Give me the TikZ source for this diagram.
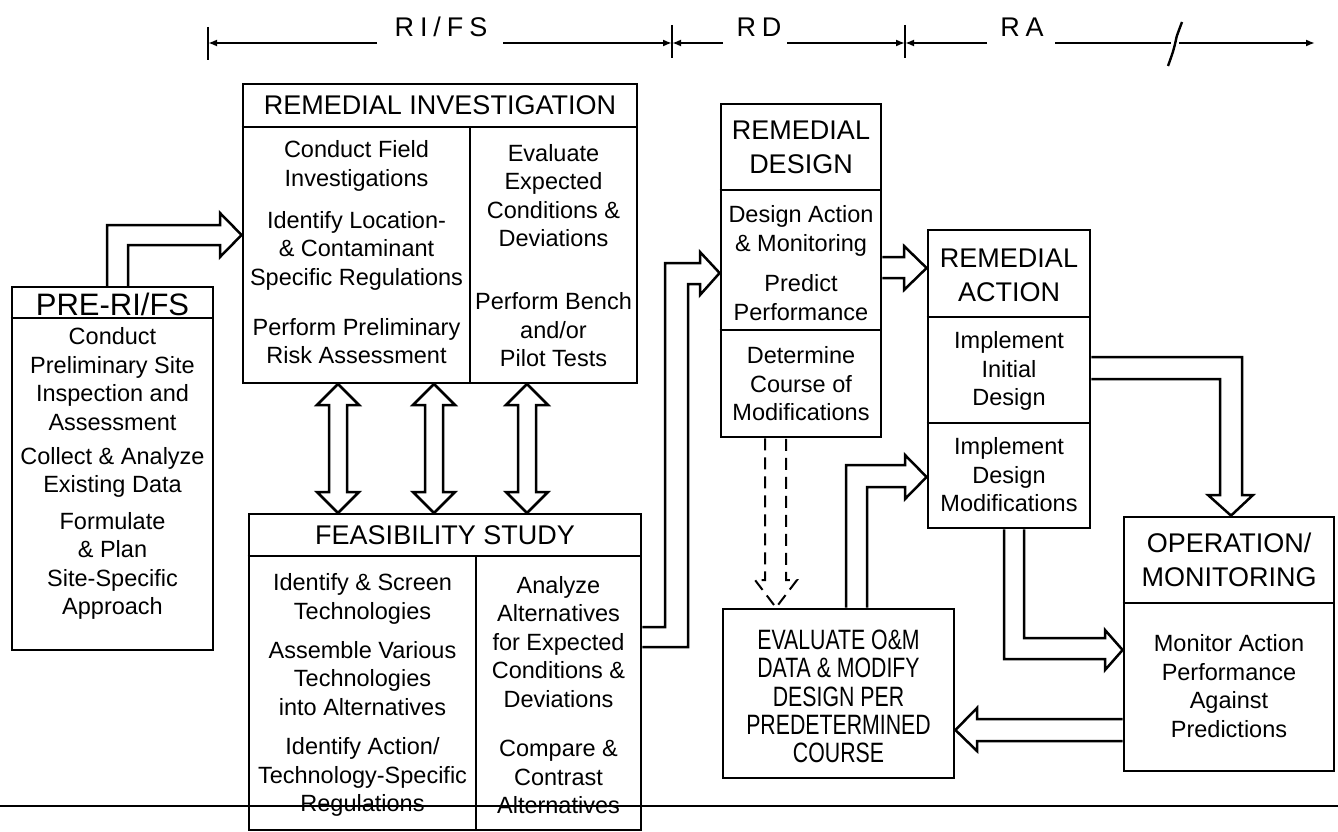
\documentclass[tikz,border=0pt]{standalone}
\usepackage{fontspec}
\setmainfont{Liberation Sans}
\newfontfamily\condsans[FakeStretch=0.76]{Liberation Sans}
\newfontfamily\spacedsans[LetterSpace=22]{Liberation Sans}
\newcommand\mybody{\fontsize{23.5}{28.5}\selectfont}
\newcommand\myhead{\fontsize{27}{34}\selectfont}
\usetikzlibrary{arrows.meta}
\begin{document}
\begin{tikzpicture}[x=1pt,y=-1pt,
  box/.style={draw, line width=2.8pt, inner sep=0pt},
  divline/.style={line width=2.8pt},
  txt/.style={align=center, inner sep=0pt, font=\mybody},
  hd/.style={align=center, inner sep=0pt, font=\myhead},
  evtxt/.style={align=center, inner sep=0pt, font=\condsans\fontsize{28}{28.2}\selectfont},
  phase/.style={inner sep=0pt, anchor=base, font=\spacedsans\fontsize{27}{30}\selectfont},
  harrow/.style={draw, line width=2.5pt, line join=miter},
  tl/.style={line width=2.4pt},
  tltip/.style={-{Latex[length=9pt,width=7pt]}},
  tick/.style={line width=1.6pt}
]
\useasboundingbox (0,0) rectangle (1338,832);

% ---------------- timeline ----------------
\coordinate (t0) at (208,43);
\coordinate (t1) at (672,43);
\coordinate (t2) at (905,43);
\coordinate (tend) at (1315,43);
\draw[tick] (208,27) -- (208,60);
\draw[tick] (672,25) -- (672,58);
\draw[tick] (905,25) -- (905,58);
\node[phase] (lrifs) at (441,37) {RI/FS};
\node[phase] (lrd) at (759,37) {RD};
\node[phase] (lra) at (1022,37) {RA};
\draw[tl,tltip] (377,43) -- (t0);
\draw[tl,tltip] (503,43) -- (t1);
\draw[tl,tltip] (723,43) -- (t1);
\draw[tl,tltip] (787,43) -- (t2);
\draw[tl,tltip] (987,43) -- (t2);
\draw[tl] (1055,43) -- (1171,43);
\draw[tl] (1182,22) .. controls (1176,38) .. (1175,44) .. controls (1173,52) .. (1168,66);
\draw[tl,tltip] (1179,43) -- (tend);

% ---------------- boxes ----------------
\node[box, minimum width=201pt, minimum height=363pt] (pre) at (112.5,468.5) {};
\draw[divline] (pre.west |- 0,318) -- (pre.east |- 0,318);

\node[box, minimum width=394pt, minimum height=299pt] (ri) at (440,233.5) {};
\draw[divline] (ri.west |- 0,127) -- (ri.east |- 0,127);
\draw[divline] (470,127) -- (ri.south -| 470,0);

\node[box, minimum width=392pt, minimum height=316pt] (fs) at (445,672) {};
\draw[divline] (fs.west |- 0,556) -- (fs.east |- 0,556);
\draw[divline] (476,556) -- (fs.south -| 476,0);

\node[box, minimum width=160pt, minimum height=333pt] (rd) at (801,270.5) {};
\draw[divline] (rd.west |- 0,190) -- (rd.east |- 0,190);
\draw[divline] (rd.west |- 0,330) -- (rd.east |- 0,330);

\node[box, minimum width=162pt, minimum height=298pt] (ra) at (1009,379) {};
\draw[divline] (ra.west |- 0,317) -- (ra.east |- 0,317);
\draw[divline] (ra.west |- 0,423) -- (ra.east |- 0,423);

\node[box, minimum width=210pt, minimum height=254pt] (om) at (1229,644) {};
\draw[divline] (om.west |- 0,603) -- (om.east |- 0,603);

\node[box, minimum width=231pt, minimum height=169pt] (ev) at (838.5,693.5) {};

% bottom rule
\draw[line width=1.4pt] (0,806) -- (1338,806);

% ---------------- texts ----------------
\node[hd, font=\fontsize{31}{34}\selectfont] (preh) at (112.5,304) {PRE-RI/FS};
\node[txt] (pre1) at (112.5,379) {Conduct\\Preliminary Site\\Inspection and\\Assessment};
\node[txt] (pre2) at (112.5,472.5) {Collect \& Analyze\\Existing Data};
\node[txt] (pre3) at (112.5,566) {Formulate\\\& Plan\\Site-Specific\\Approach};

\node[hd] (rih) at (440,105) {REMEDIAL INVESTIGATION};
\node[txt] (ri1) at (356.5,166) {Conduct Field\\Investigations};
\node[txt] (ri2) at (356.5,250.5) {Identify Location-\\\& Contaminant\\Specific Regulations};
\node[txt] (ri3) at (356.5,341) {Perform Preliminary\\Risk Assessment};
\node[txt] (ri4) at (553.5,195.5) {Evaluate\\Expected\\Conditions \&\\Deviations};
\node[txt] (ri5) at (553.5,330) {Perform Bench\\and/or\\Pilot Tests};

\node[hd] (fsh) at (445,535) {FEASIBILITY STUDY};
\node[txt] (fs1) at (362.5,599) {Identify \& Screen\\Technologies};
\node[txt] (fs2) at (362.5,678.5) {Assemble Various\\Technologies\\into Alternatives};
\node[txt] (fs3) at (362.5,777) {Identify Action/\\Technology-Specific\\Regulations};
\node[txt] (fs4) at (558.5,642) {Analyze\\Alternatives\\for Expected\\Conditions \&\\Deviations};
\node[txt] (fs5) at (558.5,777) {Compare \&\\Contrast\\Alternatives};

\node[hd] (rdh) at (801,147.5) {REMEDIAL\\DESIGN};
\node[txt] (rd1) at (801,231) {Design Action\\\& Monitoring};
\node[txt] (rd2) at (801,297.5) {Predict\\Performance};
\node[txt] (rd3) at (801,384) {Determine\\Course of\\Modifications};

\node[hd] (rah) at (1009,275.5) {REMEDIAL\\ACTION};
\node[txt] (ra1) at (1009,371) {Implement\\Initial\\Design};
\node[txt] (ra2) at (1009,475) {Implement\\Design\\Modifications};

\node[hd] (omh) at (1229,560) {OPERATION/\\MONITORING};
\node[txt] (om1) at (1229,686) {Monitor Action\\Performance\\Against\\Predictions};

\node[evtxt] (ev1) at (838.5,696.5) {EVALUATE O\&M\\DATA \& MODIFY\\DESIGN PER\\PREDETERMINED\\COURSE};

% ---------------- hollow arrows ----------------
% PRE-RI/FS -> RI
\draw[harrow] (107,287) -- (107,225) -- (220,225) -- (220,213) -- (ri.west |- 0,235) -- (220,257) -- (220,245) -- (128,245) -- (128,287);

% RI <-> FS (three double arrows)
\foreach \cx in {338,434,527}{
  \draw[harrow] (\cx-9,405) -- (\cx-21,405) -- (\cx,384) -- (\cx+21,405) -- (\cx+9,405)
    -- (\cx+9,492) -- (\cx+21,492) -- (\cx,513) -- (\cx-21,492) -- (\cx-9,492) -- cycle;
}

% FS -> RD
\draw[harrow] (fs.east |- 0,627) -- (665,627) -- (665,263) -- (700,263) -- (700,252) -- (rd.west |- 0,273) -- (700,295) -- (700,284) -- (688,284) -- (688,647) -- (fs.east |- 0,647);

% RD -> RA
\draw[harrow] (rd.east |- 0,257) -- (904,257) -- (904,246) -- (ra.west |- 0,268) -- (904,290) -- (904,278) -- (rd.east |- 0,278);

% RA (initial design) -> OM
\draw[harrow] (ra.east |- 0,357) -- (1242,357) -- (1242,495) -- (1253,495) -- (om.north -| 1231,0) -- (1208,495) -- (1220,495) -- (1220,379) -- (ra.east |- 0,379);

% RA (modifications) -> OM
\draw[harrow] (ra.south -| 1004,0) -- (1004,659) -- (1105,659) -- (1105,670) -- (om.west |- 0,650) -- (1105,630) -- (1105,638) -- (1024,638) -- (ra.south -| 1024,0);

% OM -> EV
\draw[harrow] (om.west |- 0,719) -- (977,719) -- (977,708) -- (ev.east |- 0,730) -- (977,751) -- (977,741) -- (om.west |- 0,741);

% EV -> RA (modifications)
\draw[harrow] (ev.north -| 846,0) -- (846,465) -- (905,465) -- (905,455) -- (ra.west |- 0,477) -- (905,499) -- (905,487) -- (867,487) -- (ev.north -| 867,0);

% RD -> EV dashed
\draw[harrow, line width=2pt, dash pattern=on 12pt off 7pt] (rd.south -| 765,0) -- (765,580) -- (755,580) -- (ev.north -| 776,0) -- (797,580) -- (786,580) -- (rd.south -| 786,0);

\end{tikzpicture}
\end{document}
